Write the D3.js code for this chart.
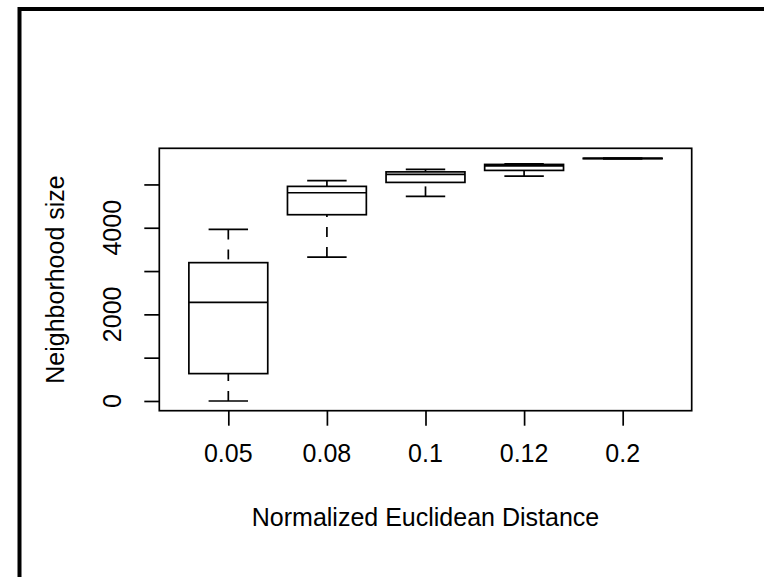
<!DOCTYPE html>
<html>
<head>
    <title>Neighborhood size boxplot</title>
    <script src="https://cdn.jsdelivr.net/npm/d3@7"></script>
    <style>
        body {
            margin: 0;
            background-color: white;
        }
        svg text {
            font-family: "Liberation Sans", Arial, sans-serif;
            fill: black;
        }
    </style>
</head>
<body>
    <div id="chart"></div>

    <script>
        // categories and five-number summaries
        const categories = ["0.05", "0.08", "0.1", "0.12", "0.2"];
        const lowerWhisker = [0, 3323, 4724, 5193, 5588];
        const q1 = [632, 4301, 5047, 5324, 5595];
        const median = [2278, 4808, 5232, 5428, 5601];
        const q3 = [3194, 4955, 5290, 5462, 5604];
        const upperWhisker = [3962, 5086, 5347, 5478, 5610];

        const yTicks = [0, 1000, 2000, 3000, 4000, 5000];
        const yTickLabels = [0, 2000, 4000];

        const width = 764, height = 577;
        const plot = { left: 159.3, right: 691.7, top: 148.3, bottom: 410.7 };
        const fontSize = 25;

        const svg = d3.select("#chart")
            .append("svg")
            .attr("width", width)
            .attr("height", height);

        // outer frame (top and left edges only)
        svg.append("path")
            .attr("d", `M19.5,${height} L19.5,9 L${width},9`)
            .attr("fill", "none")
            .attr("stroke", "black")
            .attr("stroke-width", 4);

        // R-style scales: positions 1..n, 4% extension of the data range
        const xs = d3.scaleLinear()
            .domain([0.5 - 0.2, categories.length + 0.5 + 0.2])
            .range([plot.left, plot.right]);

        const yMin = d3.min(lowerWhisker), yMax = d3.max(upperWhisker);
        const pad = (yMax - yMin) * 0.04;
        const y = d3.scaleLinear()
            .domain([yMin - pad, yMax + pad])
            .range([plot.bottom, plot.top]);

        const boxHalf = 0.4;   // boxwex 0.8
        const capHalf = 0.2;   // staplewex 0.5
        const lw = 1.7;

        // plot frame
        svg.append("rect")
            .attr("x", plot.left)
            .attr("y", plot.top)
            .attr("width", plot.right - plot.left)
            .attr("height", plot.bottom - plot.top)
            .attr("fill", "none")
            .attr("stroke", "black")
            .attr("stroke-width", lw);

        // Y axis
        const yAxis = svg.append("g")
            .attr("transform", `translate(${plot.left},0)`)
            .call(d3.axisLeft(y).tickValues(yTicks).tickSize(15).tickFormat(""));
        yAxis.select(".domain").remove();
        yAxis.selectAll("line").attr("stroke-width", lw);

        svg.selectAll(".ylab")
            .data(yTickLabels)
            .enter()
            .append("text")
            .attr("class", "ylab")
            .attr("transform", d => `translate(121,${y(d)}) rotate(-90)`)
            .attr("text-anchor", "middle")
            .style("font-size", fontSize + "px")
            .text(d => d);

        // X axis
        const xAxis = svg.append("g")
            .attr("transform", `translate(0,${plot.bottom})`)
            .call(d3.axisBottom(xs).tickValues(d3.range(1, categories.length + 1))
                .tickSize(15).tickFormat(""));
        xAxis.select(".domain").remove();
        xAxis.selectAll("line").attr("stroke-width", lw);

        svg.selectAll(".xlab")
            .data(categories)
            .enter()
            .append("text")
            .attr("class", "xlab")
            .attr("x", (d, i) => xs(i + 1))
            .attr("y", 462)
            .attr("text-anchor", "middle")
            .style("font-size", fontSize + "px")
            .text(d => d);

        // axis titles
        svg.append("text")
            .attr("x", (plot.left + plot.right) / 2)
            .attr("y", 526)
            .attr("text-anchor", "middle")
            .style("font-size", fontSize + "px")
            .text("Normalized Euclidean Distance");

        svg.append("text")
            .attr("transform", `translate(64,${(plot.top + plot.bottom) / 2}) rotate(-90)`)
            .attr("text-anchor", "middle")
            .style("font-size", fontSize + "px")
            .text("Neighborhood size");

        // boxes
        const g = svg.append("g");
        categories.forEach((c, i) => {
            const cx = xs(i + 1);
            const b = g.append("g");

            // whiskers, dashed, drawn from the cap towards the box
            b.append("line")
                .attr("x1", cx).attr("x2", cx)
                .attr("y1", y(upperWhisker[i])).attr("y2", y(q3[i]))
                .attr("stroke", "black").attr("stroke-width", lw)
                .attr("stroke-dasharray", "10,10");
            b.append("line")
                .attr("x1", cx).attr("x2", cx)
                .attr("y1", y(lowerWhisker[i])).attr("y2", y(q1[i]))
                .attr("stroke", "black").attr("stroke-width", lw)
                .attr("stroke-dasharray", "10,10");

            // caps
            [upperWhisker[i], lowerWhisker[i]].forEach(v => {
                b.append("line")
                    .attr("x1", xs(i + 1 - capHalf)).attr("x2", xs(i + 1 + capHalf))
                    .attr("y1", y(v)).attr("y2", y(v))
                    .attr("stroke", "black").attr("stroke-width", lw);
            });

            // box
            b.append("rect")
                .attr("x", xs(i + 1 - boxHalf))
                .attr("y", y(q3[i]))
                .attr("width", xs(i + 1 + boxHalf) - xs(i + 1 - boxHalf))
                .attr("height", y(q1[i]) - y(q3[i]))
                .attr("fill", "white")
                .attr("stroke", "black").attr("stroke-width", lw);

            // median
            b.append("line")
                .attr("x1", xs(i + 1 - boxHalf)).attr("x2", xs(i + 1 + boxHalf))
                .attr("y1", y(median[i])).attr("y2", y(median[i]))
                .attr("stroke", "black").attr("stroke-width", lw);
        });
    </script>
</body>
</html>
